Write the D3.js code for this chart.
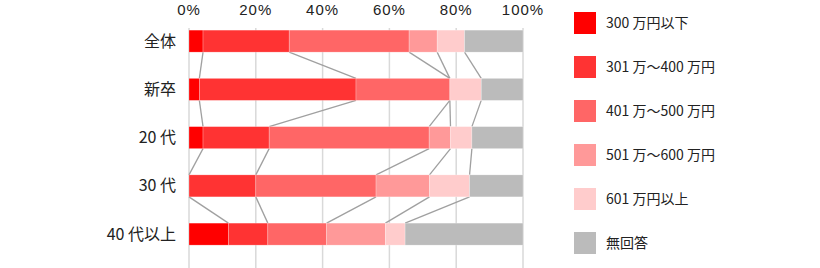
<!DOCTYPE html>
<html>
<head>
<meta charset="utf-8">
<script src="https://cdn.jsdelivr.net/npm/d3@7"></script>
<style>
  body { margin: 0; background: #fff; }
  text { font-family: "Noto Sans CJK JP", "Noto Sans", sans-serif; fill: #222; }
  .tick-label { font-family: "Liberation Sans", Arial, sans-serif; }
</style>
</head>
<body>
<svg id="chart" width="820" height="268"></svg>
<script>
const categories = ["全体", "新卒", "20 代", "30 代", "40 代以上"];
const seriesNames = ["300 万円以下", "301 万〜400 万円", "401 万〜500 万円", "501 万〜600 万円", "601 万円以上", "無回答"];
const seriesColors = ["#ff0000", "#ff3333", "#ff6666", "#ff9999", "#ffcccc", "#bbbbbb"];
// percent per category, one array per series
const under300 = [4.2, 3.1, 4.2, 0, 11.8];
const from301 = [25.8, 46.9, 19.8, 20, 11.8];
const from401 = [35.9, 28.1, 47.9, 36, 17.6];
const from501 = [8.4, 0, 6.4, 16, 17.6];
const over601 = [8.2, 9.4, 6.4, 12, 5.9];
const noAnswer = [17.5, 12.5, 15.3, 16, 35.3];
const tickValues = [0, 20, 40, 60, 80, 100];

const seriesValues = [under300, from301, from401, from501, over601, noAnswer];

const svg = d3.select("#chart");

const x = d3.scaleLinear().domain([0, 100]).range([189, 523]);
const y = d3.scaleBand()
    .domain(categories)
    .range([17, 258.25])
    .paddingInner(0.544)
    .paddingOuter(0.272);

// cumulative stacks per category
const rows = categories.map((c, i) => {
    let acc = 0;
    const segs = seriesValues.map((vals, s) => {
        const seg = { cat: c, s: s, x0: acc, x1: acc + vals[i] };
        acc += vals[i];
        return seg;
    });
    return { cat: c, segs: segs };
});

// gridlines
svg.append("g")
    .selectAll("line")
    .data(tickValues)
    .join("line")
    .attr("x1", d => x(d))
    .attr("x2", d => x(d))
    .attr("y1", 28)
    .attr("y2", 268)
    .attr("stroke", "#d9d9d9")
    .attr("stroke-width", 1.5);

// tick labels
svg.append("g")
    .selectAll("text")
    .data(tickValues)
    .join("text")
    .attr("class", "tick-label")
    .attr("x", d => x(d))
    .attr("y", 15)
    .attr("text-anchor", "middle")
    .attr("font-size", 15)
    .attr("letter-spacing", 1)
    .text(d => d + "%");

// connector lines between neighbouring bars
const connectors = [];
for (let i = 0; i < rows.length - 1; i++) {
    for (let k = 0; k < 5; k++) {
        connectors.push({
            x1: rows[i].segs[k].x1, y1: y(rows[i].cat) + y.bandwidth(),
            x2: rows[i + 1].segs[k].x1, y2: y(rows[i + 1].cat)
        });
    }
}
svg.append("g")
    .selectAll("line")
    .data(connectors)
    .join("line")
    .attr("x1", d => x(d.x1))
    .attr("y1", d => d.y1)
    .attr("x2", d => x(d.x2))
    .attr("y2", d => d.y2)
    .attr("stroke", "#a0a0a0")
    .attr("stroke-width", 1.3);

// bars
svg.append("g")
    .selectAll("g")
    .data(rows)
    .join("g")
    .selectAll("rect")
    .data(d => d.segs.filter(s => s.x1 > s.x0))
    .join("rect")
    .attr("x", d => x(d.x0))
    .attr("y", d => y(d.cat))
    .attr("width", d => x(d.x1) - x(d.x0))
    .attr("height", y.bandwidth())
    .attr("fill", d => seriesColors[d.s])
    .attr("stroke", "#fff")
    .attr("stroke-opacity", 0.4)
    .attr("stroke-width", 0.6);

// category labels
svg.append("g")
    .selectAll("text")
    .data(categories)
    .join("text")
    .attr("x", 176)
    .attr("y", d => y(d) + y.bandwidth() / 2)
    .attr("dy", "0.35em")
    .attr("text-anchor", "end")
    .attr("font-size", 16)
    .text(d => d);

// legend
const legend = svg.append("g")
    .selectAll("g")
    .data(seriesNames)
    .join("g")
    .attr("transform", (d, i) => `translate(574,${12 + i * 44})`);

legend.append("rect")
    .attr("width", 22)
    .attr("height", 22)
    .attr("fill", (d, i) => seriesColors[i]);

legend.append("text")
    .attr("x", 32)
    .attr("y", 11)
    .attr("dy", "0.35em")
    .attr("font-size", 14)
    .text(d => d);
</script>
</body>
</html>
